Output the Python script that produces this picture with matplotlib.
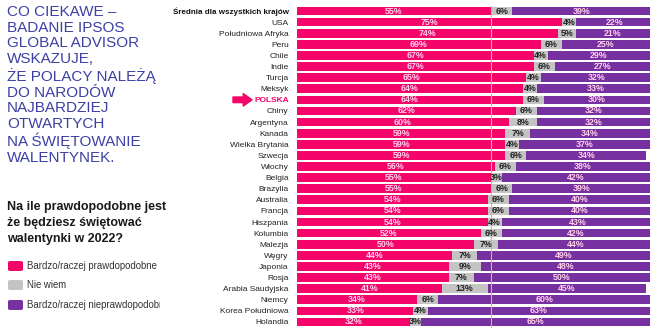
import matplotlib
matplotlib.use("Agg")
import matplotlib.pyplot as plt
from matplotlib.transforms import Bbox, TransformedBbox
from matplotlib.patches import FancyBboxPatch

plt.rcParams['font.family'] = ['Liberation Sans', 'DejaVu Sans']

countries = ["Średnia dla wszystkich krajów", "USA", "Południowa Afryka", "Peru", "Chile",
             "Indie", "Turcja", "Meksyk", "POLSKA", "Chiny", "Argentyna", "Kanada",
             "Wielka Brytania", "Szwecja", "Włochy", "Belgia", "Brazylia", "Australia",
             "Francja", "Hiszpania", "Kolumbia", "Malezja", "Węgry", "Japonia", "Rosja",
             "Arabia Saudyjska", "Niemcy", "Korea Południowa", "Holandia"]
likely = [55, 75, 74, 69, 67, 67, 65, 64, 64, 62, 60, 59, 59, 59, 56, 55, 55, 54, 54, 54,
          52, 50, 44, 43, 43, 41, 34, 33, 32]
dontknow = [6, 4, 5, 6, 4, 6, 4, 4, 6, 6, 8, 7, 4, 6, 6, 3, 6, 6, 6, 4, 6, 7, 7, 9, 7, 13,
            6, 4, 3]
unlikely = [39, 22, 21, 25, 29, 27, 32, 33, 30, 32, 32, 34, 37, 34, 38, 42, 39, 40, 40, 43,
            42, 44, 49, 48, 50, 45, 60, 63, 65]
average_value = 55

legend_labels = ["Bardzo/raczej prawdopodobne", "Nie wiem", "Bardzo/raczej nieprawdopodobne"]
headline = ("CO CIEKAWE –\nBADANIE IPSOS\nGLOBAL ADVISOR\nWSKAZUJE,\nŻE POLACY NALEŻĄ\n"
            "DO NARODÓW\nNAJBARDZIEJ\nOTWARTYCH\nNA ŚWIĘTOWANIE\nWALENTYNEK.")
question = "Na ile prawdopodobne jest\nże będziesz świętować\nwalentynki w 2022?"

PINK = "#f4056a"
GRAY = "#c4c4c4"
PURPLE = "#7630a0"
BLUE = "#3c40a4"
LABEL_LIGHT = "#ffd2ea"

W, H = 655, 331
fig = plt.figure(figsize=(W / 100, H / 100), dpi=100)
ax = fig.add_axes([297 / W, (H - 327.5) / H, 353 / W, 322 / H])

n = len(countries)
ys = list(range(n))
bh = 0.78
left2 = [a for a in likely]
left3 = [a + b for a, b in zip(likely, dontknow)]
ax.barh(ys, likely, height=bh, color=PINK, zorder=2)
ax.barh(ys, dontknow, left=left2, height=bh, color=GRAY, zorder=2)
ax.barh(ys, unlikely, left=left3, height=bh, color=PURPLE, zorder=2)

for i in range(n):
    ax.text(likely[i] / 2, i, f"{likely[i]}%", ha='center', va='center', fontsize=6.4,
            fontweight='bold', color=LABEL_LIGHT, zorder=4)
    ax.text(left2[i] + dontknow[i] / 2, i, f"{dontknow[i]}%", ha='center', va='center',
            fontsize=6.4, fontweight='bold', color='#222222', zorder=4)
    ax.text(left3[i] + unlikely[i] / 2, i, f"{unlikely[i]}%", ha='center', va='center',
            fontsize=6.4, fontweight='bold', color=LABEL_LIGHT, zorder=4)

ax.axvline(average_value, color="#f2b04b", lw=0.8, zorder=3)

ax.set_xlim(0, 100)
ax.set_ylim(n - 0.5, -0.5)
ax.set_yticks(ys)
ax.set_yticklabels(countries, fontsize=6)
ax.tick_params(axis='y', length=0, pad=6)
ax.set_xticks([])
for s in ax.spines.values():
    s.set_visible(False)
for i, lab in enumerate(ax.get_yticklabels()):
    if i == 0:
        lab.set_fontweight('bold')
        lab.set_fontsize(5.8)
        lab.set_color('#111111')
    elif countries[i] == "POLSKA":
        lab.set_fontweight('bold')
        lab.set_color(PINK)
    else:
        lab.set_color('#222222')

# arrow pointing at POLSKA
ypol = H - (11 + 8 * 11.1)
ax.annotate('', xy=(252, ypol), xytext=(233, ypol), xycoords='figure pixels',
            textcoords='figure pixels',
            arrowprops=dict(arrowstyle='simple,head_width=1.0,head_length=0.7,tail_width=0.45',
                            color=PINK, mutation_scale=9, shrinkA=0, shrinkB=0))

# headline
fig.text(7 / W, 1 - 5 / H, headline, ha='left', va='top', fontsize=11, color=BLUE,
         linespacing=1.15)

# question
fig.text(7 / W, 1 - 201 / H, question, ha='left', va='top', fontsize=9,
         fontweight='bold', color='#1a1a1a', linespacing=1.42)

# legend
leg_colors = [PINK, GRAY, PURPLE]
leg_y = [266, 285, 305]
clip = TransformedBbox(Bbox([[0, 0], [160 / W, 1]]), fig.transFigure)
for c, y, lab in zip(leg_colors, leg_y, legend_labels):
    p = FancyBboxPatch((8 / W, (H - y - 5) / H), 15 / W, 10 / H,
                       boxstyle="round,pad=0,rounding_size=0.004",
                       transform=fig.transFigure, facecolor=c, edgecolor='none')
    fig.patches.append(p)
    t = fig.text(27 / W, (H - y) / H, lab, ha='left', va='center', fontsize=6.9,
                 color='#333333')
    t.set_clip_box(clip)
    t.set_clip_on(True)

fig.savefig("out.png", dpi=100)
